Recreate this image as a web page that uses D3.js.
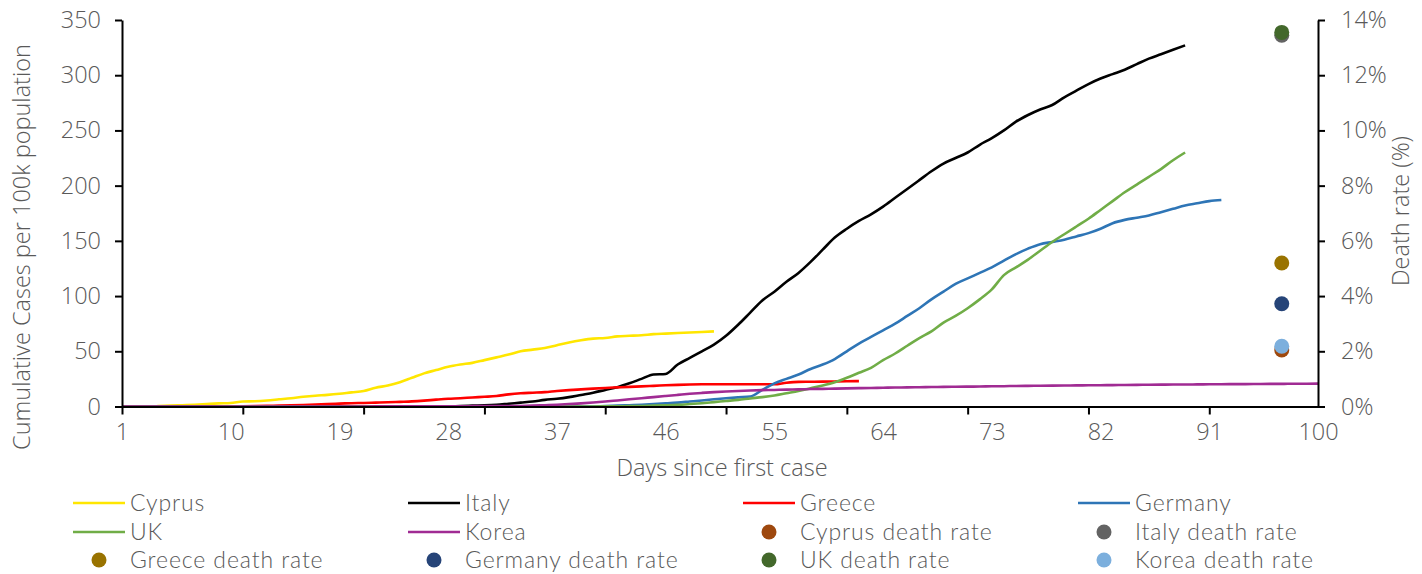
<!DOCTYPE html>
<html><head><meta charset="utf-8">
<script src="https://cdn.jsdelivr.net/npm/d3@7"></script>
<style>
body{margin:0;background:#fff;}
</style></head>
<body><svg id="c" width="1422" height="574"></svg>
<script>
// ---- data (cumulative cases per 100k, by day since first case) ----
const cyprus = [0,0,0,0.3,0.8,1.2,1.6,2.2,2.8,3.2,4.5,4.8,5.5,6.5,7.5,8.8,9.8,10.5,11.5,12.8,14,17,19,22,26,30,33,36,38,39.5,42,44.5,47,50,51.5,53,55.5,58,60,61.5,62,63.5,64,64.5,65.5,66,66.5,67,67.5,68];
const italy = [0,0,0,0,0,0,0,0,0,0,0,0,0,0,0,0,0,0,0,0,0,0,0,0,0,0,0,0,0.5,0.8,1,1.5,2.5,3.5,4.5,6,7,8.5,10.5,12.5,15,17.5,21,25,29,29.5,38,44,50,56,64,74,85,96,104,113,121,131,142,153,161,168,174,181,189,197,205,213,220,225,230,237,243,250,258,264,269,273,280,286,292,297,301,305,310,315,319,323,327];
const greece = [0,0,0,0,0,0,0,0,0,0,0.2,0.4,0.6,0.8,1,1.3,1.7,2.2,2.6,3,3.2,3.5,3.8,4.2,4.6,5.3,6.2,7,7.5,8.2,8.8,9.5,11,12,12.5,13,14,14.8,15.5,16.2,16.8,17.3,17.8,18.2,18.7,19.2,19.6,19.9,20.1,20.2,20.2,20.2,20.2,20.1,20.1,21.5,22.3,22.4,22.5,22.7,22.9,23];
const germany = [0,0,0,0,0,0,0,0,0,0,0,0,0,0,0,0,0,0,0,0,0,0,0,0,0,0,0,0,0,0,0,0,0,0,0,0,0,0,0,0,0.5,0.8,1.2,1.6,2.2,2.8,3.5,4.5,5.5,6.5,7.5,8.3,9,15,21,25,29,34,38,43,50,57,63,69,75,82,89,97,104,111,116,121,126,132,138,143,147,149,151,154,157,161,166,169,171,173,176,179,182,184,186,187];
const uk = [0,0,0,0,0,0,0,0,0,0,0,0,0,0,0,0,0,0,0,0,0,0,0,0,0,0,0,0,0,0,0,0,0,0,0,0,0,0,0,0,0.1,0.2,0.3,0.5,0.8,1.1,1.5,2.2,3,4,5,6,7.3,8.5,10,12,14,16.5,19,22,26,30.5,35,42,48,55,62,68,76,82,89,97,106,119,126,133,141,149,156,163,170,178,186,194,201,208,215,223,230];
const korea = [0,0,0,0,0,0,0,0,0,0,0,0,0,0,0,0,0,0,0,0,0,0.1,0.1,0.1,0.1,0.2,0.2,0.2,0.2,0.3,0.3,0.3,0.3,0.5,0.8,1.2,1.6,2.2,2.8,3.6,4.5,5.5,6.5,7.5,8.5,9.5,10.5,11.5,12.3,13,13.6,14.1,14.5,14.8,15,15.3,15.5,15.8,16,16.2,16.4,16.6,16.8,17,17.2,17.3,17.5,17.6,17.8,17.9,18,18.1,18.3,18.4,18.6,18.7,18.8,18.9,19,19.1,19.2,19.3,19.4,19.5,19.6,19.7,19.8,19.9,19.9,20,20.1,20.2,20.3,20.3,20.4,20.5,20.5,20.6,20.6,20.7];

const seriesNames = ["Cyprus","Italy","Greece","Germany","UK","Korea"];
const seriesData = [cyprus, italy, greece, germany, uk, korea];
const lineColors = ["#FFE600","#000000","#FF0000","#2E75B6","#70AD47","#A02B93"];
const deathDay = 97;
const deathRates = [2.05, 13.45, 5.2, 3.72, 13.55, 2.18];
const dotColors = ["#9E480E","#636363","#997300","#264478","#43682B","#7CAFDD"];

const yTicks = [0,50,100,150,200,250,300,350];
const rTicks = [0,2,4,6,8,10,12,14];
const xLabelDays = [1,10,19,28,37,46,55,64,73,82,91,100];
const xTickDays = [1,11,21,31,41,51,61,71,81,91];

// ---- layout ----
const FS = 23.5;
const svg = d3.select("#c");
const L = 122, R = 1318, T = 20, B = 406.5;
const x = d3.scaleLinear().domain([1,100]).range([L,R]);
const y = d3.scaleLinear().domain([0,350]).range([B,T]);
const yr = d3.scaleLinear().domain([0,14]).range([B,T]);
const txt = s=>s.style("font-family","'Open Sans',sans-serif").style("font-weight",300)
  .style("font-size",FS+"px").style("fill","#595959");

// lines
const line = d3.line().x((d,i)=>x(i+1)).y(d=>y(d)).curve(d3.curveMonotoneX);
seriesData.forEach((s,k)=>{
  svg.append("path").attr("d", line(s)).attr("fill","none")
    .attr("stroke", lineColors[k]).attr("stroke-width",2.6).attr("stroke-linejoin","round");
});

// axes
const axStyle = g=>{g.selectAll("path,line").attr("stroke","#000").attr("stroke-width",2);
  g.selectAll("text").call(txt);};
svg.append("g").attr("transform",`translate(${L},0)`)
  .call(d3.axisLeft(y).tickValues(yTicks).tickSize(7).tickSizeOuter(0).tickPadding(14))
  .call(axStyle);
svg.append("g").attr("transform",`translate(${R},0)`)
  .call(d3.axisRight(yr).tickValues(rTicks).tickSize(7).tickSizeOuter(0).tickPadding(16).tickFormat(d=>d+"%"))
  .call(axStyle);
// bottom: tick marks and labels separate
svg.append("g").attr("transform",`translate(0,${B})`)
  .call(d3.axisBottom(x).tickValues(xTickDays).tickSize(8).tickSizeOuter(0).tickFormat(""))
  .call(axStyle);
svg.append("g").attr("transform",`translate(0,${B})`)
  .call(d3.axisBottom(x).tickValues(xLabelDays).tickSize(0).tickPadding(17))
  .call(g=>g.select(".domain").remove())
  .call(axStyle);

// death rate dots
deathRates.forEach((v,k)=>{
  svg.append("circle").attr("cx",x(deathDay)).attr("cy",yr(v)).attr("r",7.5).attr("fill",dotColors[k]);
});

// titles
svg.append("text").attr("x",722).attr("y",476).attr("text-anchor","middle").call(txt).text("Days since first case");
svg.append("text").attr("transform","translate(30,247) rotate(-90)").attr("text-anchor","middle").call(txt).text("Cumulative Cases per 100k population");
svg.append("text").attr("transform","translate(1409,211) rotate(-90)").attr("text-anchor","middle").call(txt).text("Death rate (%)");

// legend
const legItems = [];
seriesNames.forEach((n,k)=>legItems.push({name:n,type:"line",color:lineColors[k]}));
seriesNames.forEach((n,k)=>legItems.push({name:n+" death rate",type:"dot",color:dotColors[k]}));
const colX = [73,408,743,1078], rowY = [503,532,560];
legItems.forEach((it,i)=>{
  const cx = colX[i%4], cy = rowY[Math.floor(i/4)];
  const g = svg.append("g").attr("transform",`translate(${cx},${cy})`);
  if(it.type==="line") g.append("line").attr("x1",0).attr("x2",52).attr("y1",0).attr("y2",0).attr("stroke",it.color).attr("stroke-width",2.6);
  else g.append("circle").attr("cx",26).attr("cy",0).attr("r",7.5).attr("fill",it.color);
  g.append("text").attr("x",57).attr("y",8).style("font-family","Lato,sans-serif").style("font-weight",300)
    .style("font-size","23px").style("fill","#595959").style("letter-spacing","0.9px").text(it.name);
});
</script></body></html>
